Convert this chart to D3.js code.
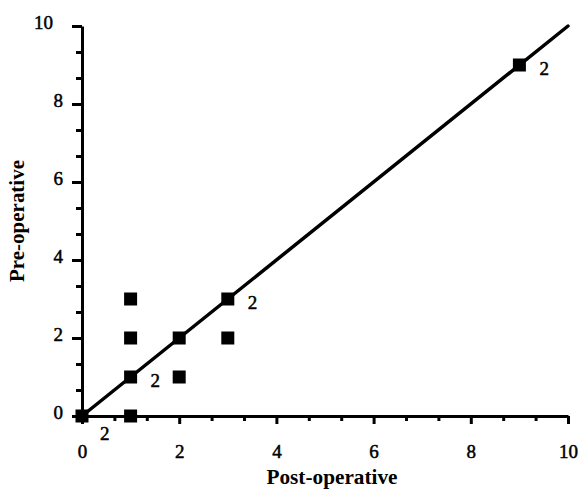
<!DOCTYPE html>
<html><head><meta charset="utf-8">
<script src="https://cdn.jsdelivr.net/npm/d3@7"></script>
<style>body{margin:0;background:#fff}svg{display:block}</style>
</head><body>
<svg id="c" width="581" height="493"></svg>
<script>
const postOp = [0, 1, 1, 1, 1, 2, 2, 3, 3, 9];
const preOp  = [0, 0, 1, 2, 3, 1, 2, 2, 3, 9];
const counts = [2, 1, 2, 1, 1, 1, 1, 1, 2, 2];
const majorTicks = [0, 2, 4, 6, 8, 10];
const lineEnds = [0, 10];

const svg = d3.select("#c");
const x = d3.scaleLinear().domain([0, 10]).range([82, 568]);
const y = d3.scaleLinear().domain([0, 10]).range([416, 26]);
const minor = d3.range(0, 10.01, 2/3).filter(v => !majorTicks.some(m => Math.abs(m - v) < 0.01));
const font = "Liberation Serif, Times New Roman, serif";
const fs = 19;

// x axis
const gx = svg.append("g").attr("transform", `translate(0,${y(0)})`);
gx.call(d3.axisBottom(x).tickValues(majorTicks).tickSize(8).tickSizeOuter(0).tickFormat(d3.format("d")));
gx.append("g").call(d3.axisBottom(x).tickValues(minor).tickSize(5).tickFormat("")).select(".domain").remove();
gx.selectAll(".domain").attr("stroke-width", 3);
gx.selectAll(".tick line").attr("stroke-width", 3);
gx.selectAll(".tick text").attr("font-family", font).attr("font-size", fs)
  .attr("y", 42).attr("dy", 0).attr("fill", "#000")
  .attr("stroke", "#000").attr("stroke-width", 0.5);

// y axis
const gy = svg.append("g").attr("transform", `translate(${x(0)},0)`);
gy.call(d3.axisLeft(y).tickValues(majorTicks).tickSize(10).tickSizeOuter(0).tickFormat(d3.format("d")));
gy.append("g").call(d3.axisLeft(y).tickValues(minor).tickSize(6).tickFormat("")).select(".domain").remove();
gy.selectAll(".domain").attr("stroke-width", 3);
gy.selectAll(".tick line").attr("stroke-width", 3);
gy.selectAll(".tick text").attr("font-family", font).attr("font-size", fs).attr("fill", "#000")
  .attr("stroke", "#000").attr("stroke-width", 0.5)
  .attr("x", d => d === 10 ? -29 : -19).attr("y", -4);

// identity line
svg.append("line")
  .attr("x1", x(lineEnds[0])).attr("y1", y(lineEnds[0]))
  .attr("x2", x(lineEnds[1])).attr("y2", y(lineEnds[1]))
  .attr("stroke", "#000").attr("stroke-width", 3.5).attr("stroke-linecap", "round");

const pts = postOp.map((v, i) => ({x: v, y: preOp[i], n: counts[i]}));
const s = 13;
svg.append("g").selectAll("rect").data(pts).join("rect")
  .attr("x", d => x(d.x) - s/2).attr("y", d => y(d.y) - s/2)
  .attr("width", s).attr("height", s).attr("fill", "#000");

svg.append("g").selectAll("text").data(pts.filter(d => d.n > 1)).join("text")
  .attr("x", d => x(d.x) + (d.x === 0 ? 18 : 20))
  .attr("y", d => y(d.y) + (d.x === 0 ? 24 : 10))
  .attr("font-family", font).attr("font-size", fs)
  .attr("stroke", "#000").attr("stroke-width", 0.5)
  .text(d => d.n);

svg.append("text").attr("x", 332).attr("y", 484).attr("text-anchor", "middle")
  .attr("font-family", font).attr("font-weight", "bold").attr("font-size", 20)
  .attr("textLength", 131).attr("lengthAdjust", "spacingAndGlyphs")
  .text("Post-operative");
svg.append("text").attr("transform", "translate(24,221) rotate(-90)").attr("text-anchor", "middle")
  .attr("font-family", font).attr("font-weight", "bold").attr("font-size", 20)
  .attr("textLength", 122).attr("lengthAdjust", "spacingAndGlyphs")
  .text("Pre-operative");
</script>
</body></html>
